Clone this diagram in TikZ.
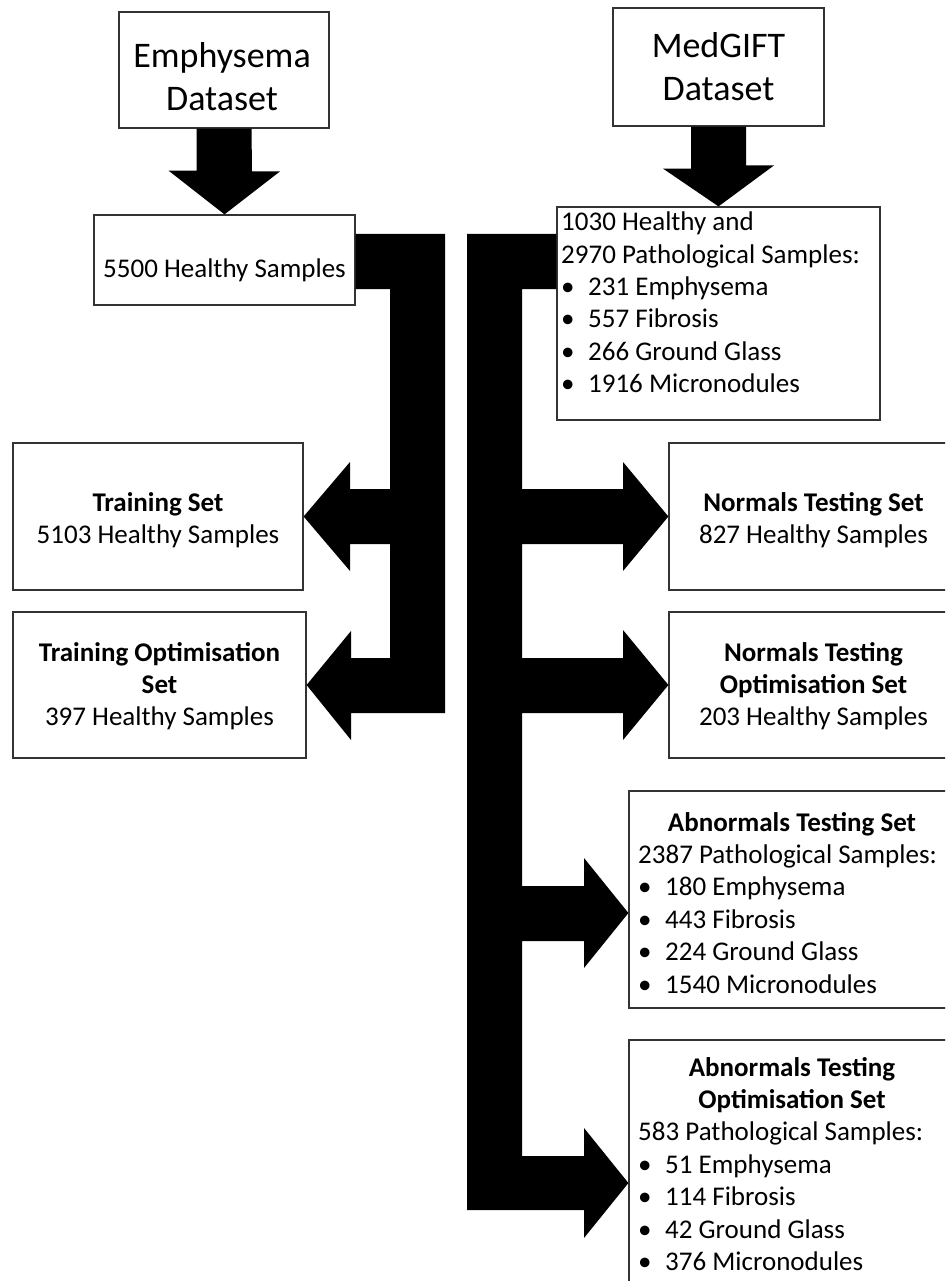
\documentclass[tikz,border=0pt]{standalone}
\usepackage{fontspec}
\setmainfont{Carlito}
\begin{document}
\begin{tikzpicture}[x=1pt,y=-1pt,
  box/.style={draw=black!80, line width=1.2pt, rectangle, inner sep=0pt},
  body/.style={font=\fontsize{27}{32.4}\selectfont, inner sep=0pt},
  title/.style={font=\fontsize{36}{43.2}\selectfont, inner sep=0pt},
  flow/.style={fill=black, draw=none}]
\newcommand{\bul}{\makebox[27pt][l]{\textbullet}}
\clip (0,0) rectangle (945,1281);

% ---- boxes ----
\node[box, minimum width=210pt, minimum height=116pt] (emph)     at (224,70)      {};
\node[box, minimum width=211pt, minimum height=118pt] (medgift)  at (718.5,67)    {};
\node[box, minimum width=261pt, minimum height=90pt]  (healthy)  at (224.5,260)   {};
\node[box, minimum width=323pt, minimum height=213pt] (medsplit) at (718.5,313.5) {};
\node[box, minimum width=290pt, minimum height=147pt] (train)    at (158,516.5)   {};
\node[box, minimum width=293pt, minimum height=146pt] (trainopt) at (159.5,685)   {};
\node[box, minimum width=289pt, minimum height=147pt] (normtest) at (813.5,516.5) {};
\node[box, minimum width=289pt, minimum height=146pt] (normopt)  at (813.5,685)   {};
\node[box, minimum width=326pt, minimum height=217pt] (abntest)  at (792,899.5)   {};
\node[box, minimum width=326pt, minimum height=280pt] (abnopt)   at (792,1180)    {};

% ---- texts ----
\node[title, anchor=north, align=center] (emphT) at (222,36.8) {\strut Emphysema\\Dataset};
\node[title, anchor=north, align=center] (medT) at (718.5,26.8) {\strut MedGIFT\\Dataset};
\node[body, anchor=north] (healthyT) at (224.5,254.3) {\strut 5500 Healthy Samples};
\node[body, anchor=north west, align=left] (medsplitT) at (561,207.8)
  {\strut 1030 Healthy and\\2970 Pathological Samples:\\\bul 231 Emphysema\\\bul 557 Fibrosis\\\bul 266 Ground Glass\\\bul 1916 Micronodules};
\node[body, anchor=north, align=center] (trainT) at (158,488.3)
  {\strut\textbf{Training Set}\\5103 Healthy Samples};
\node[body, anchor=north, align=center] (trainoptT) at (159.5,638.3)
  {\strut\textbf{Training Optimisation}\\\textbf{Set}\\397 Healthy Samples};
\node[body, anchor=north, align=center] (normtestT) at (813.5,488.3)
  {\strut\textbf{Normals Testing Set}\\827 Healthy Samples};
\node[body, anchor=north, align=center] (normoptT) at (813.5,638.3)
  {\strut\textbf{Normals Testing}\\\textbf{Optimisation Set}\\203 Healthy Samples};
\node[body, anchor=north] (abntestH) at (792,808.3) {\strut\textbf{Abnormals Testing Set}};
\node[body, anchor=north west, align=left] (abntestT) at (638,840.7)
  {\strut 2387 Pathological Samples:\\\bul 180 Emphysema\\\bul 443 Fibrosis\\\bul 224 Ground Glass\\\bul 1540 Micronodules};
\node[body, anchor=north, align=center] (abnoptH) at (792,1053.3)
  {\strut\textbf{Abnormals Testing}\\\textbf{Optimisation Set}};
\node[body, anchor=north west, align=left] (abnoptT) at (638,1118.1)
  {\strut 583 Pathological Samples:\\\bul 51 Emphysema\\\bul 114 Fibrosis\\\bul 42 Ground Glass\\\bul 376 Micronodules};

% ---- block arrows from the datasets ----
\fill[flow] ([xshift=-27.5pt]emph.south) -- ++(0,42) -- ++(-28,0) -- (healthy.north)
  -- ++(55.5,-43) -- ++(-28,0) -- ([xshift=27.5pt]emph.south) -- cycle;
\fill[flow] ([xshift=-27.5pt]medgift.south) -- ++(0,42) -- ++(-28,0) -- (medsplit.north)
  -- ++(55.5,-41) -- ++(-28,0) -- ([xshift=27.5pt]medgift.south) -- cycle;

% ---- branching connector: Emphysema samples to training sets ----
\fill[flow] (healthy.east |- 0,234) -- (445,234) -- (445,713) -- (351,713) -- (351,740)
  -- (trainopt.east) -- (351,631) -- (351,658) -- (390,658) -- (390,544) -- (350,544)
  -- (350,571) -- (train.east) -- (350,462) -- (350,489) -- (390,489) -- (390,289)
  -- (healthy.east |- 0,289) -- cycle;

% ---- branching connector: MedGIFT samples to testing sets ----
\fill[flow] (medsplit.west |- 0,234) -- (467,234) -- (467,1210) -- (584,1210) -- (584,1238)
  -- (abnopt.west |- 0,1183) -- (584,1128) -- (584,1156) -- (522,1156) -- (522,941)
  -- (584,941) -- (584,968) -- (abntest.west |- 0,913) -- (584,858) -- (584,886)
  -- (522,886) -- (522,713) -- (623,713) -- (623,740) -- (normopt.west) -- (623,630)
  -- (623,658) -- (522,658) -- (522,544) -- (623,544) -- (623,571) -- (normtest.west)
  -- (623,462) -- (623,489) -- (522,489) -- (522,289) -- (medsplit.west |- 0,289) -- cycle;
\end{tikzpicture}
\end{document}
